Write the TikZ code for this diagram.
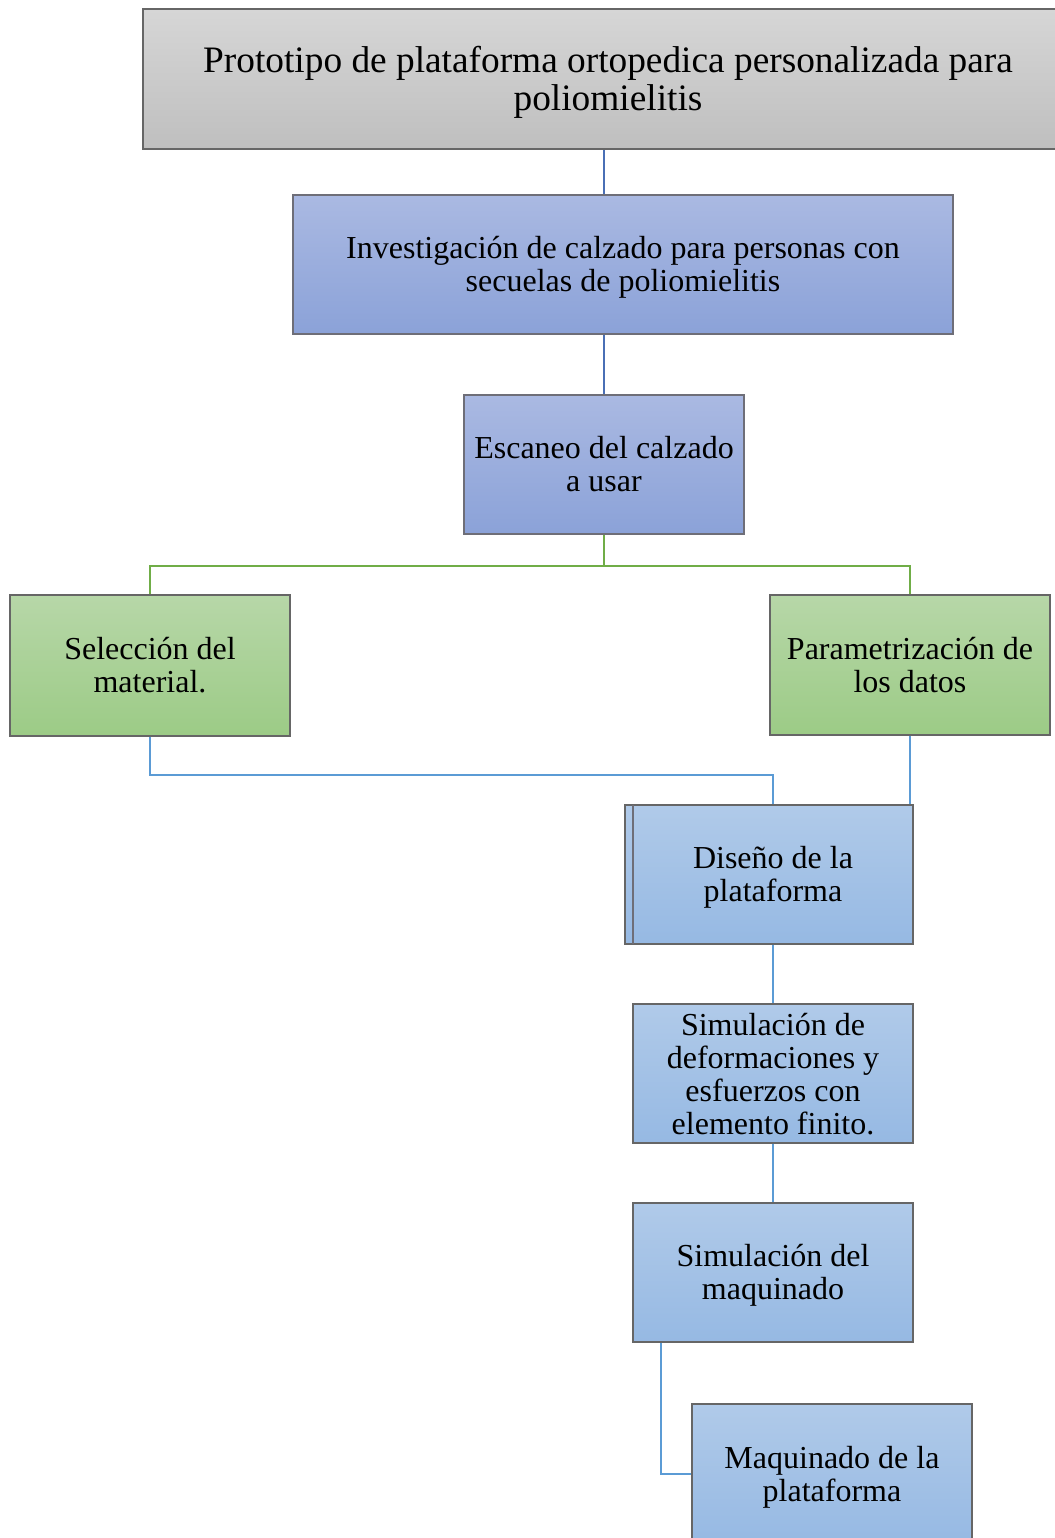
\documentclass[tikz,border=0pt]{standalone}
\usepackage{fontspec}
\setmainfont{Liberation Serif}
\definecolor{grayT}{HTML}{D6D6D6}
\definecolor{grayB}{HTML}{BFBFBF}
\definecolor{indT}{HTML}{AAB9E2}
\definecolor{indB}{HTML}{8BA2D8}
\definecolor{grnT}{HTML}{B7D7A8}
\definecolor{grnB}{HTML}{9CCB86}
\definecolor{skyT}{HTML}{B0CAE9}
\definecolor{skyB}{HTML}{96B9E3}
\definecolor{lineIndigo}{HTML}{4A6FB5}
\definecolor{lineGreen}{HTML}{70AD47}
\definecolor{lineSky}{HTML}{5B9BD5}
\definecolor{bordr}{HTML}{6E6E78}
\newcommand\myTopStrut{\rule{0pt}{21.4pt}}
\newcommand\myBotStrut{\rule[-5.2pt]{0pt}{5.2pt}}
\newcommand\myTopStrutBig{\rule{0pt}{24.9pt}}
\newcommand\myBotStrutBig{\rule[-6pt]{0pt}{6pt}}
\begin{document}
\begin{tikzpicture}[x=0.75pt,y=-0.75pt,
  boxbase/.style={draw=bordr,line width=0.9pt,inner sep=0pt},
  graybox/.style={boxbase,top color=grayT,bottom color=grayB,draw=gray!80!black},
  indbox/.style={boxbase,top color=indT,bottom color=indB},
  grnbox/.style={boxbase,top color=grnT,bottom color=grnB,draw=gray!80!black},
  skybox/.style={boxbase,top color=skyT,bottom color=skyB,draw=gray!80!black},
  bigtxt/.style={inner sep=0pt,align=center,text=black,font=\fontsize{28}{28.5}\selectfont},
  midtxt/.style={inner sep=0pt,align=center,text=black,font=\fontsize{24}{24.75}\selectfont},
  indline/.style={draw=lineIndigo,line width=1.5pt},
  grnline/.style={draw=lineGreen,line width=1.5pt},
  skyline/.style={draw=lineSky,line width=1.7pt}]
\useasboundingbox (0,0) rectangle (1054,1538);

% free connector points
\coordinate (t1) at (604,149);
\coordinate (e1) at (604,566);
\coordinate (gL) at (150,566);
\coordinate (gR) at (910,566);
\coordinate (s1) at (150,775);
\coordinate (s2) at (773,775);
\coordinate (m1) at (661,1474);

% boxes
\node[graybox,minimum width=930*0.75pt,minimum height=140*0.75pt] (top) at (608,79) {};
\node[indbox,minimum width=660*0.75pt,minimum height=139*0.75pt] (inv) at (623,264.5) {};
\node[indbox,minimum width=280*0.75pt,minimum height=139*0.75pt] (esc) at (604,464.5) {};
\node[grnbox,minimum width=280*0.75pt,minimum height=141*0.75pt] (sel) at (150,665.5) {};
\node[grnbox,minimum width=280*0.75pt,minimum height=140*0.75pt] (par) at (910,665) {};
\node[skybox,minimum width=288*0.75pt,minimum height=139*0.75pt] (dis) at (769,874.5) {};
\draw[draw=bordr,line width=0.9pt] (633,805) -- (633,944);
\node[skybox,minimum width=280*0.75pt,minimum height=139*0.75pt] (sim) at (773,1073.5) {};
\node[skybox,minimum width=280*0.75pt,minimum height=139*0.75pt] (smq) at (773,1272.5) {};
\node[skybox,minimum width=280*0.75pt,minimum height=140*0.75pt] (maq) at (832,1474) {};

% texts
\node[bigtxt] (topT) at (top.center)
  {\myTopStrutBig Prototipo de plataforma ortopedica personalizada para\\poliomielitis\myBotStrutBig};
\node[midtxt] (invT) at (inv.center)
  {\myTopStrut Investigación de calzado para personas con\\secuelas de poliomielitis\myBotStrut};
\node[midtxt] (escT) at (esc.center) {\myTopStrut Escaneo del calzado\\a usar\myBotStrut};
\node[midtxt] (selT) at (sel.center) {\myTopStrut Selección del\\material.\myBotStrut};
\node[midtxt] (parT) at (par.center) {\myTopStrut Parametrización de\\los datos\myBotStrut};
\node[midtxt] (disT) at ([xshift=3pt]dis.center) {\myTopStrut Diseño de la\\plataforma\myBotStrut};
\node[midtxt] (simT) at ([yshift=-0.5pt]sim.center)
  {\myTopStrut Simulación de\\deformaciones y\\esfuerzos con\\elemento finito.\myBotStrut};
\node[midtxt] (smqT) at (smq.center) {\myTopStrut Simulación del\\maquinado\myBotStrut};
\node[midtxt] (maqT) at (maq.center) {\myTopStrut Maquinado de la\\plataforma\myBotStrut};

% connector lines
\draw[indline] (t1 |- top.south) -- (t1 |- inv.north);
\draw[indline] (esc.north |- inv.south) -- (esc.north);
\draw[grnline] (esc.south) -- (e1) -- (gL) -- (sel.north);
\draw[grnline] (e1) -- (gR) -- (par.north);
\draw[skyline] (sel.south) -- (s1) -- (s2) -- (s2 |- dis.north);
\draw[skyline] (par.south) -- (par.south |- dis.north);
\draw[skyline] (sim.north |- dis.south) -- (sim.north);
\draw[skyline] (sim.south) -- (smq.north);
\draw[skyline] (m1 |- smq.south) -- (m1) -- (maq.west);
\end{tikzpicture}
\end{document}
